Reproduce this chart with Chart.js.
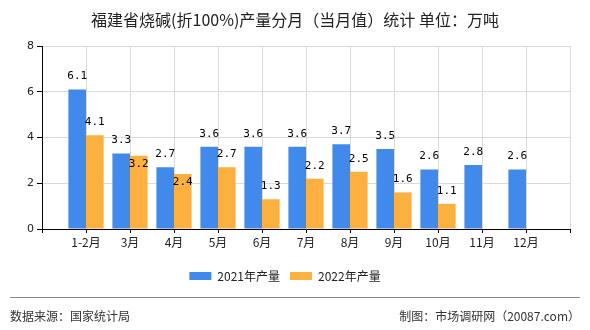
<!DOCTYPE html>
<html>
<head>
<meta charset="utf-8">
<script src="https://cdn.jsdelivr.net/npm/chart.js"></script>
<style>
  body { margin: 0; background: #fff; font-family: "Noto Sans CJK SC", sans-serif; }
  #page { position: relative; width: 590px; height: 330px; overflow: hidden; }
  #title { position: absolute; top: 8px; left: 0; width: 590px; text-align: center; font-size: 16px; line-height: 22px; color: #222; }
  #chartBox { position: absolute; left: 0; top: 0; width: 590px; height: 330px; }
  #rule { position: absolute; left: 10px; top: 297px; width: 570px; height: 1px; background: #888; }
  .foot { position: absolute; top: 308px; font-size: 12px; line-height: 16px; color: #333; }
</style>
</head>
<body>
<div id="page">
  <div id="chartBox"><canvas id="barChart" width="590" height="330"></canvas></div>
  <div id="title">福建省烧碱(折100%)产量分月（当月值）统计 单位：万吨</div>
  <div id="rule"></div>
  <div class="foot" style="left:10px">数据来源：国家统计局</div>
  <div class="foot" style="right:10px">制图：市场调研网（20087.com）</div>
</div>
<script>
// du lieu doc tu hinh
const months = ["1-2月", "3月", "4月", "5月", "6月", "7月", "8月", "9月", "10月", "11月", "12月"];
const output2021 = [6.1, 3.3, 2.7, 3.6, 3.6, 3.6, 3.7, 3.5, 2.6, 2.8, 2.6];
const output2022 = [4.1, 3.2, 2.4, 2.7, 1.3, 2.2, 2.5, 1.6, 1.1, null, null];
const seriesNames = ["2021年产量", "2022年产量"];
const yTicks = [0, 2, 4, 6, 8];

// truc x co 1 o trong o dau va cuoi
const labels = ["", ...months, ""];
const pad = (arr) => [null, ...arr, null];

// ve so tren cot
const barLabels = {
  id: "barLabels",
  afterDatasetsDraw(chart) {
    const ctx = chart.ctx;
    const m0 = chart.getDatasetMeta(0);
    const m1 = chart.getDatasetMeta(1);
    const d0 = chart.data.datasets[0].data;
    const d1 = chart.data.datasets[1].data;
    ctx.save();
    ctx.font = "11px 'DejaVu Sans Mono'";
    ctx.fillStyle = "#000";
    ctx.textAlign = "center";
    ctx.textBaseline = "middle";
    labels.forEach((l, i) => {
      let ya = null;
      if (d0[i] != null) {
        ya = m0.data[i].y - 13;
        ctx.fillText(d0[i].toFixed(1), m0.data[i].x, ya);
      }
      if (d1[i] != null) {
        let yb = m1.data[i].y - 13;
        // neu trung nhau thi dua vao trong cot
        if (ya != null && Math.abs(ya - yb) < 12) yb = m1.data[i].y + 8;
        ctx.fillText(d1[i].toFixed(1), m1.data[i].x, yb);
      }
    });
    ctx.restore();
  },
};

new Chart(document.getElementById("barChart"), {
  type: "bar",
  data: {
    labels: labels,
    datasets: [
      {
        label: seriesNames[0],
        data: pad(output2021),
        backgroundColor: "#418AEB",
      },
      {
        label: seriesNames[1],
        data: pad(output2022),
        backgroundColor: "#FBB040",
      },
    ],
  },
  options: {
    responsive: false,
    animation: false,
    categoryPercentage: 0.8,
    barPercentage: 1.0,
    layout: {
      padding: {left: 0, right: 20, top: 46, bottom: 38},
    },
    plugins: {
      tooltip: {enabled: false},
      legend: {
        position: "bottom",
        labels: {
          boxWidth: 22,
          boxHeight: 8,
          padding: 10,
          color: "#222",
          font: {family: "'Noto Sans CJK SC'", size: 12},
        },
      },
    },
    scales: {
      x: {
        offset: false,
        afterFit: (scale) => {
          scale.height = 31;
        },
        grid: {
          offset: false,
          color: "#d9d9d9",
          tickColor: "#000",
          tickLength: 4,
        },
        border: {color: "#000", width: 1},
        ticks: {
          color: "#222",
          padding: 2,
          maxRotation: 0,
          autoSkip: false,
          font: {family: "'Noto Sans CJK SC'", size: 12},
        },
      },
      y: {
        min: 0,
        max: 8,
        afterFit: (scale) => {
          scale.width = 42;
        },
        afterBuildTicks: (scale) => {
          scale.ticks = yTicks.map((v) => ({value: v}));
        },
        grid: {
          color: "#d9d9d9",
          tickColor: "#000",
          tickLength: 5,
        },
        border: {color: "#000", width: 1},
        ticks: {
          color: "#222",
          padding: 3,
          font: {family: "'DejaVu Sans'", size: 11},
        },
      },
    },
  },
  plugins: [barLabels],
});
</script>
</body>
</html>
